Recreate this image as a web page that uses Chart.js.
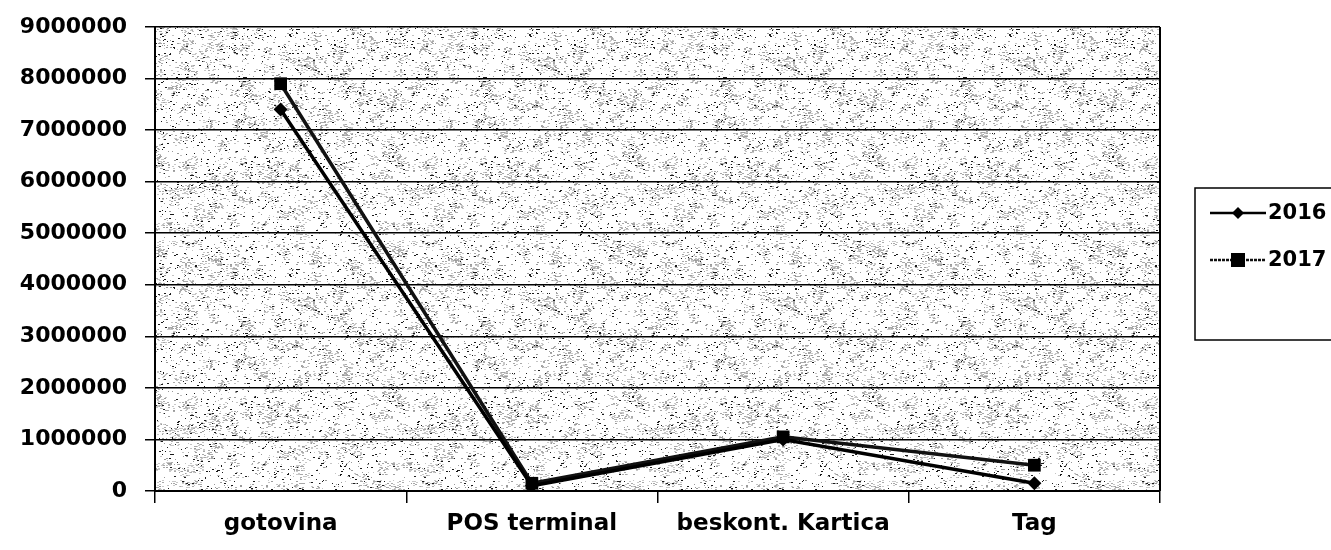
<!DOCTYPE html>
<html>
<head>
<meta charset="utf-8">
<script src="https://cdn.jsdelivr.net/npm/chart.js@4.4.1/dist/chart.umd.min.js"></script>
<style>
  html, body { margin: 0; padding: 0; background: #ffffff; }
  #wrap { width: 1331px; height: 550px; position: relative; }
</style>
</head>
<body>
<div id="wrap"><canvas id="c" width="1331" height="550"></canvas></div>
<script>
const categories = ['gotovina', 'POS terminal', 'beskont. Kartica', 'Tag'];
const series2016 = [7400000, 100000, 1000000, 150000];
const series2017 = [7900000, 150000, 1050000, 500000];
const seriesLabels = ['2016', '2017'];
const yMin = 0, yMax = 9000000, yStep = 1000000;

const FONT = 'DejaVu Sans';

// seeded speckle texture (decoration only)
function makeTexture() {
  const t = document.createElement('canvas');
  t.width = 240; t.height = 240;
  const g = t.getContext('2d');
  g.fillStyle = '#ffffff';
  g.fillRect(0, 0, 240, 240);
  let s = 12345;
  const rnd = () => { s = (s * 1103515245 + 12345) & 0x7fffffff; return s / 0x7fffffff; };
  for (let i = 0; i < 260; i++) {
    const x = rnd() * 240, y = rnd() * 240;
    for (let k = 0; k < 14; k++) {
      g.fillStyle = rnd() < 0.5 ? '#a8a8a8' : '#c8c8c8';
      g.fillRect(Math.floor(x + (rnd() - 0.5) * 10), Math.floor(y + (rnd() - 0.5) * 10), 2, 1);
    }
  }
  for (let i = 0; i < 2600; i++) {
    const x = Math.floor(rnd() * 240), y = Math.floor(rnd() * 240);
    const r = rnd();
    g.fillStyle = r < 0.4 ? '#1a1a1a' : (r < 0.75 ? '#9a9a9a' : '#c4c4c4');
    g.fillRect(x, y, rnd() < 0.5 ? 1 : 2, 1);
  }
  return t;
}

const bgPlugin = {
  id: 'bgTexture',
  beforeDraw(chart) {
    const { ctx, chartArea: a } = chart;
    ctx.save();
    ctx.fillStyle = ctx.createPattern(makeTexture(), 'repeat');
    ctx.fillRect(a.left, a.top, a.right - a.left, a.bottom - a.top);
    ctx.restore();
  },
  afterDraw(chart) {
    const { ctx, chartArea: a } = chart;
    ctx.save();
    ctx.strokeStyle = '#000';
    ctx.lineWidth = 2;
    ctx.beginPath();
    ctx.moveTo(a.right, a.top); ctx.lineTo(a.right, a.bottom);
    ctx.stroke();
    // legend
    const lx = 1195, ly = 188;
    ctx.lineWidth = 1.5;
    ctx.strokeStyle = '#000';
    ctx.fillStyle = '#fff';
    ctx.fillRect(lx, ly, 1331 - lx + 5, 152);
    ctx.strokeRect(lx, ly, 1331 - lx + 5, 152);
    chart.data.datasets.forEach((ds, i) => {
      const y = 213 + i * 47;
      ctx.strokeStyle = ds.borderColor;
      ctx.lineWidth = 2.5;
      if (i === 1) ctx.setLineDash([3, 1]); else ctx.setLineDash([]);
      ctx.beginPath(); ctx.moveTo(1210, y); ctx.lineTo(1266, y); ctx.stroke();
      ctx.setLineDash([]);
      ctx.fillStyle = '#000';
      if (ds.pointStyle === 'rectRot') {
        ctx.beginPath();
        ctx.moveTo(1238, y - 6); ctx.lineTo(1244, y); ctx.lineTo(1238, y + 6); ctx.lineTo(1232, y);
        ctx.closePath(); ctx.fill();
      } else {
        ctx.fillRect(1231, y - 7, 14, 14);
      }
      ctx.font = 'bold 21px ' + FONT;
      ctx.textBaseline = 'middle';
      ctx.textAlign = 'left';
      ctx.fillText(ds.label, 1268, y + 1);
    });
    ctx.restore();
  }
};

new Chart(document.getElementById('c'), {
  type: 'line',
  data: {
    labels: categories,
    datasets: [
      {
        label: seriesLabels[0], data: series2016,
        borderColor: '#000000', backgroundColor: '#000000',
        borderWidth: 3.5, pointStyle: 'rectRot', pointRadius: 7,
        pointBorderWidth: 0, tension: 0
      },
      {
        label: seriesLabels[1], data: series2017,
        borderColor: '#111111', backgroundColor: '#000000',
        borderWidth: 3.5, pointStyle: 'rect', pointRadius: 9,
        pointBorderWidth: 0, tension: 0
      }
    ]
  },
  options: {
    responsive: false,
    animation: false,
    layout: { padding: { top: 27, right: 171, left: 0, bottom: 0 } },
    plugins: { legend: { display: false }, tooltip: { enabled: false } },
    scales: {
      x: {
        offset: true,
        grid: { offset: true, drawOnChartArea: false, drawTicks: true, tickLength: 12, color: '#000', lineWidth: 1.5 },
        border: { color: '#000', width: 2 },
        ticks: { color: '#000', font: { family: FONT, size: 23, weight: 'bold' }, padding: 7, maxRotation: 0 },
        afterFit(s) { s.height = 59; s.paddingLeft = 0; s.paddingRight = 0; }
      },
      y: {
        min: yMin, max: yMax,
        grid: { color: '#000', lineWidth: 1.5, tickLength: 10 },
        border: { color: '#000', width: 2 },
        ticks: { stepSize: yStep, color: '#000', font: { family: FONT, size: 22, weight: 'bold' }, padding: 18,
                 callback: (v) => String(v) },
        afterFit(s) { s.width = 155; s.paddingTop = 0; s.paddingBottom = 0; }
      }
    }
  },
  plugins: [bgPlugin]
});
</script>
</body>
</html>
